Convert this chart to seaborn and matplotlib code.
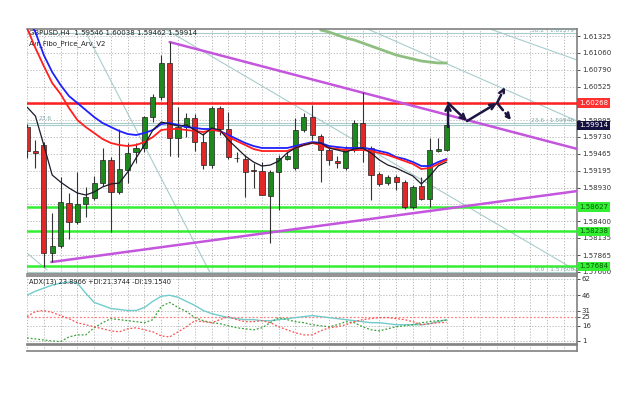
import matplotlib
matplotlib.use("Agg")
import matplotlib.pyplot as plt
import matplotlib.transforms as mtrans
import numpy as np
import pandas as pd
import seaborn as sns

# ---------------- data ----------------
candle_open = [1.59887, 1.59508, 1.59603, 1.57897, 1.58007, 1.58687, 1.58386, 1.58671, 1.58766, 1.59003,
               1.59366, 1.58860, 1.59208, 1.59492, 1.59556, 1.60045, 1.60361, 1.60899, 1.59714, 1.59887,
               1.60030, 1.59650, 1.59287, 1.60188, 1.59856, 1.59405, 1.59382, 1.59208, 1.59192, 1.58797,
               1.59176, 1.59382, 1.59240, 1.59840, 1.60045, 1.59745, 1.59524, 1.59350, 1.59240, 1.59524,
               1.59951, 1.59556, 1.59145, 1.59003, 1.59098, 1.59018, 1.58623, 1.58955, 1.58750, 1.59508,
               1.59524]
candle_high = [1.59935, 1.59682, 1.59650, 1.58529, 1.59098, 1.58845, 1.59176, 1.58940, 1.59113, 1.59556,
               1.59413, 1.59856, 1.59635, 1.59635, 1.60061, 1.60409, 1.61025, 1.61230, 1.60203, 1.60109,
               1.60093, 1.59793, 1.60219, 1.60219, 1.60124, 1.59492, 1.59445, 1.59319, 1.59334, 1.59208,
               1.59445, 1.59492, 1.60030, 1.60109, 1.60235, 1.59777, 1.59556, 1.59429, 1.59587, 1.59998,
               1.60440, 1.59587, 1.59176, 1.59129, 1.59129, 1.59050, 1.58971, 1.59098, 1.59714, 1.59714,
               1.59919]
candle_low = [1.59398, 1.59240, 1.57675, 1.57754, 1.57976, 1.58116, 1.58355, 1.58466, 1.58734, 1.58955,
              1.58228, 1.58829, 1.59003, 1.59319, 1.59492, 1.59966, 1.60314, 1.59429, 1.59413, 1.59729,
              1.59508, 1.59224, 1.59240, 1.59761, 1.59382, 1.59334, 1.58781, 1.58924, 1.58813, 1.58058,
              1.58576, 1.59366, 1.59208, 1.59808, 1.59682, 1.59018, 1.59287, 1.59240, 1.59208, 1.59492,
              1.59334, 1.58734, 1.58955, 1.58971, 1.58892, 1.58592, 1.58592, 1.58734, 1.58623, 1.59492,
              1.59508]
candle_close = [1.59508, 1.59477, 1.57897, 1.58007, 1.58702, 1.58386, 1.58671, 1.58781, 1.59003, 1.59366,
                1.58860, 1.59224, 1.59477, 1.59556, 1.60045, 1.60361, 1.60899, 1.59714, 1.59887, 1.60030,
                1.59650, 1.59287, 1.60188, 1.59856, 1.59413, 1.59398, 1.59176, 1.59192, 1.58813, 1.59176,
                1.59398, 1.59429, 1.59840, 1.60045, 1.59761, 1.59524, 1.59366, 1.59319, 1.59524, 1.59951,
                1.59556, 1.59129, 1.58987, 1.59098, 1.59018, 1.58623, 1.58940, 1.58750, 1.59524, 1.59540,
                1.59914]

ma_blue = [1.61610, 1.61388, 1.61025, 1.60756, 1.60551, 1.60377, 1.60267, 1.60156, 1.60045, 1.59951,
           1.59887, 1.59824, 1.59777, 1.59761, 1.59793, 1.59840, 1.59935, 1.59951, 1.59919, 1.59887,
           1.59872, 1.59856, 1.59856, 1.59824, 1.59761, 1.59698, 1.59635, 1.59587, 1.59556, 1.59556,
           1.59556, 1.59556, 1.59587, 1.59619, 1.59650, 1.59635, 1.59587, 1.59571, 1.59556, 1.59556,
           1.59556, 1.59540, 1.59508, 1.59477, 1.59413, 1.59382, 1.59334, 1.59271, 1.59271, 1.59334,
           1.59382]
ma_red = [1.61452, 1.61136, 1.60851, 1.60583, 1.60409, 1.60188, 1.59998, 1.59887, 1.59793, 1.59698,
          1.59635, 1.59603, 1.59587, 1.59603, 1.59650, 1.59729, 1.59840, 1.59856, 1.59856, 1.59840,
          1.59824, 1.59808, 1.59840, 1.59824, 1.59729, 1.59666, 1.59603, 1.59540, 1.59508, 1.59508,
          1.59508, 1.59508, 1.59556, 1.59603, 1.59635, 1.59603, 1.59556, 1.59540, 1.59524, 1.59524,
          1.59524, 1.59508, 1.59477, 1.59445, 1.59398, 1.59350, 1.59303, 1.59224, 1.59240, 1.59303,
          1.59366]
ma_black = [1.60203, 1.60061, 1.59603, 1.59129, 1.59018, 1.58924, 1.58845, 1.58813, 1.58860, 1.58940,
            1.58987, 1.59003, 1.59176, 1.59398, 1.59603, 1.59840, 1.59966, 1.59935, 1.59903, 1.59919,
            1.59840, 1.59761, 1.59872, 1.59840, 1.59682, 1.59556, 1.59429, 1.59334, 1.59271, 1.59287,
            1.59350, 1.59477, 1.59556, 1.59603, 1.59635, 1.59635, 1.59556, 1.59524, 1.59492, 1.59540,
            1.59556, 1.59477, 1.59366, 1.59287, 1.59240, 1.59176, 1.59113, 1.58987, 1.59113, 1.59271,
            1.59334]
ma_slow_idx = [35, 36, 37, 38, 39, 40, 41, 42, 43, 44, 45, 46, 47, 48, 49, 50]
ma_slow = [1.61420, 1.61388, 1.61341, 1.61294, 1.61262, 1.61215, 1.61167, 1.61120, 1.61072, 1.61025,
           1.60993, 1.60962, 1.60930, 1.60914, 1.60899, 1.60899]

price_ticks = [1.61325, 1.61060, 1.60790, 1.60525, 1.60255, 1.59995, 1.59730, 1.59465, 1.59195,
               1.58930, 1.58665, 1.58400, 1.58135, 1.57865, 1.57600]
price_tick_labels = ["1.61325", "1.61060", "1.60790", "1.60525", "", "1.59995", "1.59730", "1.59465",
                     "1.59195", "1.58930", "", "1.58400", "1.58135", "1.57865", "1.57600"]

resistance_level = 1.60268
support_levels = [1.58627, 1.58238, 1.57684]
current_price = 1.59914
fib_levels = [1.61379, 1.59946, 1.59920, 1.57600]
fib_texts = ["38.2 - 1.61379", "23.6 - 1.59946", "", "0.0 - 1.57600"]

trend_upper_x = [17.0, 65.6]
trend_upper_y = [1.61230, 1.59540]
trend_lower_x = [2.9, 65.6]
trend_lower_y = [1.57754, 1.58876]

diag_lines_x = [[6.8, 21.9], [16.45, 65.55], [40.6, 65.55], [55.2, 65.55], [0.0, 2.4]]
diag_lines_y = [[1.61436, 1.57565], [1.61436, 1.57612], [1.61436, 1.59982], [1.61436, 1.60946],
                [1.57897, 1.57628]]

arrow_x = [50.18, 50.18, 52.44, 56.02, 56.97, 57.69]
arrow_y = [1.59887, 1.60267, 1.59982, 1.60267, 1.60519, 1.59998]

adx_main = [46, 50, 53, 56, 58, 59, 58, 48, 39, 36, 33, 32, 31, 31, 34, 40, 45, 46, 44, 40,
            36, 31, 28, 26, 24, 23, 22, 22, 21, 21, 22, 23, 24, 25, 26, 25, 24, 23, 22, 21,
            20, 19, 19, 18, 17, 17, 17, 17, 18, 20, 22]
plus_di = [4, 3, 2, 1, 0.5, 5, 7, 7, 14, 19, 23, 22, 21, 20, 19, 22, 35, 39, 34, 30,
           24, 21, 19, 18, 16, 14, 13, 12, 14, 19, 24, 22, 20, 19, 17, 16, 15, 17, 20, 19,
           15, 12, 11, 13, 15, 16, 17, 19, 20, 21, 21.4]
minus_di = [25, 30, 31, 29, 26, 23, 19, 17, 15, 13, 11, 10, 13, 14, 12, 10, 6, 5, 10, 15,
            21, 20, 19, 22, 25, 22, 20, 20, 21, 19, 15, 12, 9, 7, 7, 11, 14, 15, 17, 20,
            22, 23, 24, 24, 23, 22, 20, 17, 18, 19, 19.2]
adx_ticks = [62, 46, 31, 25, 16, 1]
adx_level = 25

# ---------------- styling ----------------
sns.set_style("white")
plt.rcParams["font.family"] = ["DejaVu Sans"]

W, H = 625, 420
fig = plt.figure(figsize=(W / 100, H / 100), dpi=100)
fig.patch.set_facecolor("white")

left, right = 26.5, 577
def box(top, bottom):
    return [left / W, 1 - bottom / H, (right - left) / W, (bottom - top) / H]

ax = fig.add_axes(box(29, 274))
ax2 = fig.add_axes(box(276, 344))
ax3 = fig.add_axes(box(345, 351))

XMIN, XMAX = -0.06, 65.55
grid_kw = dict(color="#b0b0b0", lw=0.6, ls=(0, (1.5, 2)))
frame_col = "#808080"

# ---- main price panel ----
idx = np.arange(len(candle_open))
df = pd.DataFrame({"i": idx, "open": candle_open, "high": candle_high,
                   "low": candle_low, "close": candle_close,
                   "blue": ma_blue, "red": ma_red, "black": ma_black})

for xv in range(0, 66, 2):
    ax.axvline(xv, zorder=0, **grid_kw)
for yv in price_ticks:
    ax.axhline(yv, zorder=0, **grid_kw)

# fib lines & diagonal lines
for lv in fib_levels:
    ax.axhline(lv, color="#a9cccc", lw=0.8, zorder=1)
for xs, ys in zip(diag_lines_x, diag_lines_y):
    ax.plot(xs, ys, color="#a9cccc", lw=0.8, zorder=1)

# slow MA
sns.lineplot(x=ma_slow_idx, y=ma_slow, ax=ax, color="#8fbf80", lw=2, zorder=2)

# horizontal levels
ax.axhline(resistance_level, color="#ff2020", lw=1.8, zorder=3)
for lv in support_levels:
    ax.axhline(lv, color="#33ee33", lw=1.8, zorder=3)

# trend lines
ax.plot(trend_upper_x, trend_upper_y, color="#c455dd", lw=1.8, zorder=3)
ax.plot(trend_lower_x, trend_lower_y, color="#c455dd", lw=1.8, zorder=3)

# candles
bw = 0.62
for r in df.itertuples():
    up = r.close >= r.open
    col = "#1e8a1e" if up else "#e02828"
    ax.vlines(r.i, r.low, r.high, color="#333333", lw=0.8, zorder=4)
    lo = min(r.open, r.close)
    h = max(abs(r.close - r.open), 0.00004)
    ax.bar(r.i, h, bottom=lo, width=bw, color=col, edgecolor="#222222",
           linewidth=0.5, zorder=5)

# moving averages
sns.lineplot(data=df, x="i", y="blue", ax=ax, color="#1f1fff", lw=1.3, zorder=6)
sns.lineplot(data=df, x="i", y="red", ax=ax, color="#ff1f1f", lw=1.3, zorder=6)
sns.lineplot(data=df, x="i", y="black", ax=ax, color="#1a1a2a", lw=0.9, zorder=7)

# hand-drawn arrows
arrow_kw = dict(arrowstyle="->", color="#1e1640", lw=1.8, mutation_scale=9,
                shrinkA=0, shrinkB=0)
segs = [(0, 1, "-"), (1, 2, "-"), (2, 3, "-"), (3, 4, "--"), (3, 5, "--")]
for a, b, ls in segs:
    ax.annotate("", xy=(arrow_x[b], arrow_y[b]), xytext=(arrow_x[a], arrow_y[a]),
                arrowprops=dict(arrow_kw, linestyle=ls), zorder=8, annotation_clip=False)

ax.set_xlim(XMIN, XMAX)
ax.set_ylim(1.57565, 1.61436)
ax.set_xlabel("")
ax.set_ylabel("")
ax.set_xticks([])
ax.yaxis.tick_right()
ax.set_yticks(price_ticks)
ax.set_yticklabels(price_tick_labels)
ax.tick_params(axis="y", labelsize=5, length=2, width=0.6, pad=1.5,
               colors="#333333", direction="out")

# right-side price boxes
trans = mtrans.blended_transform_factory(ax.transAxes, ax.transData)
ax.text(1.004, resistance_level, f"{resistance_level:.5f}", transform=trans, fontsize=5,
        color="white", va="center", ha="left",
        bbox=dict(boxstyle="square,pad=0.25", fc="#ff3030", ec="none"), clip_on=False)
ax.text(1.004, current_price, f"{current_price:.5f}", transform=trans, fontsize=5,
        color="white", va="center", ha="left",
        bbox=dict(boxstyle="square,pad=0.25", fc="#141040", ec="none"), clip_on=False)
for lv in support_levels:
    ax.text(1.004, lv, f"{lv:.5f}", transform=trans, fontsize=5, color="#0a5a0a",
            va="center", ha="left",
            bbox=dict(boxstyle="square,pad=0.25", fc="#33ee33", ec="none"), clip_on=False)

# fib texts
for lv, t in zip(fib_levels, fib_texts):
    if t:
        ax.text(0.995, lv, t, transform=trans, fontsize=4.2, color="#7fa8a8",
                ha="right", va="bottom" if lv < 1.614 else "top")
ax.text(0.022, fib_levels[1] + 0.0003, "23.6", transform=trans, fontsize=4.2,
        color="#7fa8a8", ha="left", va="bottom")

ax.text(0.004, 0.995, "GBPUSD,H4  1.59546 1.60038 1.59462 1.59914", transform=ax.transAxes,
        fontsize=5, color="#222222", ha="left", va="top")
ax.text(0.004, 0.955, "Avr_Fibo_Price_Arv_V2", transform=ax.transAxes,
        fontsize=5, color="#222222", ha="left", va="top")

for s in ["top", "bottom", "right"]:
    ax.spines[s].set_color(frame_col)
    ax.spines[s].set_linewidth(1.2)
ax.spines["left"].set_visible(False)

# ---- ADX panel ----
adf = pd.DataFrame({"i": idx, "adx": adx_main, "pdi": plus_di, "mdi": minus_di})
for xv in range(0, 66, 2):
    ax2.axvline(xv, zorder=0, **grid_kw)
for yv in adx_ticks:
    if yv != adx_level:
        ax2.axhline(yv, zorder=0, **grid_kw)
ax2.axhline(adx_level, color="#ff8080", lw=0.9, ls=(0, (1.5, 1.5)), zorder=1)
sns.lineplot(data=adf, x="i", y="adx", ax=ax2, color="#70cccc", lw=1.0, zorder=3)
sns.lineplot(data=adf, x="i", y="pdi", ax=ax2, color="#3aa03a", lw=0.9,
             linestyle=(0, (1.5, 1.5)), zorder=3)
sns.lineplot(data=adf, x="i", y="mdi", ax=ax2, color="#ff5050", lw=0.9,
             linestyle=(0, (1.5, 1.5)), zorder=3)
ax2.set_xlim(XMIN, XMAX)
ax2.set_ylim(-1.96, 64.95)
ax2.set_xlabel("")
ax2.set_ylabel("")
ax2.set_xticks([])
ax2.yaxis.tick_right()
ax2.set_yticks(adx_ticks)
ax2.set_yticklabels([str(t) for t in adx_ticks])
ax2.tick_params(axis="y", labelsize=5, length=2, width=0.6, pad=1.5,
                colors="#333333", direction="out")
ax2.text(0.004, 0.96, "ADX(13) 23.8966 +DI:21.3744 -DI:19.1540", transform=ax2.transAxes,
         fontsize=4.8, color="#222222", ha="left", va="top")
for s in ["top", "bottom", "right"]:
    ax2.spines[s].set_color(frame_col)
    ax2.spines[s].set_linewidth(1.2)
ax2.spines["left"].set_visible(False)

# ---- thin bottom strip ----
ax3.set_xlim(XMIN, XMAX)
for xv in range(0, 66, 2):
    ax3.axvline(xv, zorder=0, **grid_kw)
ax3.set_xticks([])
ax3.set_yticks([])
for s in ["top", "bottom", "right"]:
    ax3.spines[s].set_color(frame_col)
    ax3.spines[s].set_linewidth(1.2)
ax3.spines["left"].set_visible(False)

fig.savefig("out.png", dpi=100, facecolor="white")
